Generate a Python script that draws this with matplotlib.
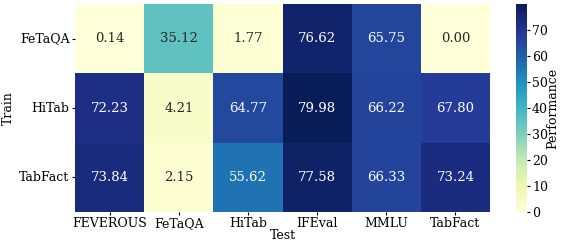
import matplotlib
matplotlib.use("Agg")
import matplotlib.pyplot as plt
import seaborn as sns
import numpy as np

train = ["FeTaQA", "HiTab", "TabFact"]
test = ["FEVEROUS", "FeTaQA", "HiTab", "IFEval", "MMLU", "TabFact"]
fetaqa_row = [0.14, 35.12, 1.77, 76.62, 65.75, 0.00]
hitab_row = [72.23, 4.21, 64.77, 79.98, 66.22, 67.80]
tabfact_row = [73.84, 2.15, 55.62, 77.58, 66.33, 73.24]

plt.rcParams['font.family'] = ['DejaVu Serif']
plt.rcParams['font.size'] = 9

data = np.array([fetaqa_row, hitab_row, tabfact_row])

fig = plt.figure(figsize=(5.62, 2.41), dpi=100)
ax = fig.add_axes([0.1335, 0.12, 0.7385, 0.863])
cax = fig.add_axes([0.918, 0.12, 0.02, 0.863])

sns.heatmap(data, annot=True, fmt=".2f", cmap="YlGnBu", ax=ax, cbar_ax=cax,
            xticklabels=test, yticklabels=train,
            annot_kws={"size": 9.5})
ax.set_xlabel("Test", labelpad=-1)
ax.set_ylabel("Train", labelpad=3)
ax.tick_params(axis='y', rotation=0, length=2.5, pad=1.5)
ax.tick_params(axis='x', rotation=0, length=2.5, pad=1)
cax.set_yticks(range(0, 80, 10))
cax.tick_params(length=2.5, pad=1)
cax.set_ylabel("Performance", labelpad=-1)

fig.savefig("out.png", dpi=100)
